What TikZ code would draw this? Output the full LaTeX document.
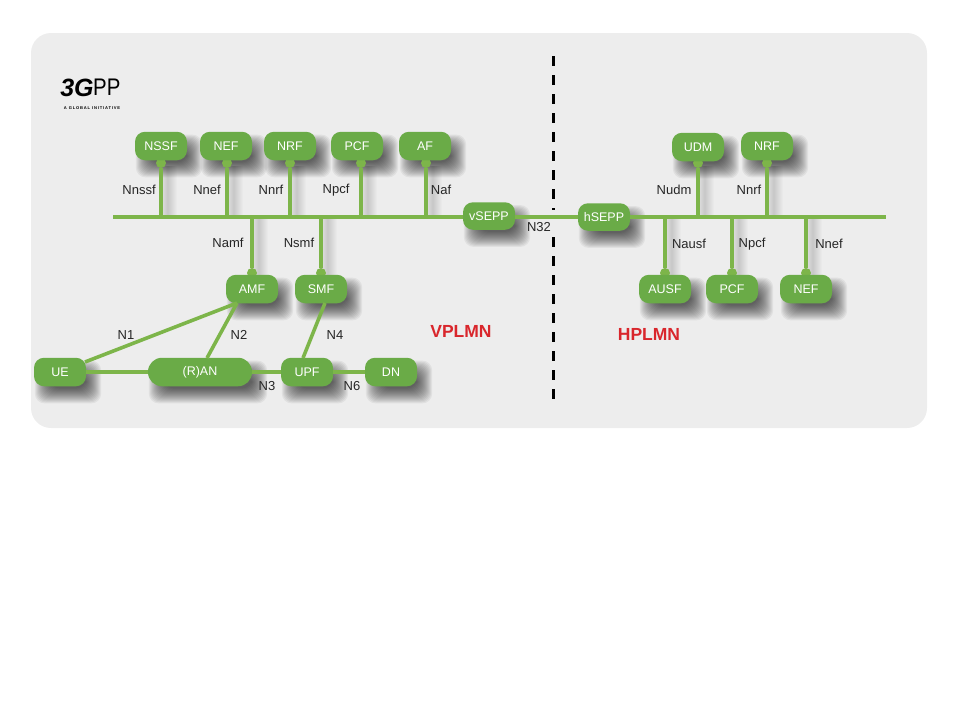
\documentclass[tikz,border=0pt]{standalone}
\usepackage{fontspec}
\setmainfont{Liberation Sans}
\usetikzlibrary{calc,backgrounds}
\definecolor{nfgreen}{HTML}{6AAB47}
\definecolor{linkgreen}{HTML}{7DB54A}
\definecolor{panelgray}{HTML}{EDEDED}
\definecolor{plmnred}{HTML}{D9262C}
\tikzset{
  nf/.style={draw=none,fill=nfgreen,rounded corners=10pt,minimum width=52pt,minimum height=28.5pt,inner sep=0pt,
    text=white,font=\fontsize{12.5}{15}\selectfont},
  ran/.style={nf,minimum width=104pt,rounded corners=14pt},
  sepp/.style={nf,minimum height=27.5pt},
  dot/.style={circle,fill=linkgreen,minimum size=10pt,inner sep=0pt},
  link/.style={draw=linkgreen,line width=3.6pt},
  lab/.style={text=black!85,inner sep=0pt,font=\fontsize{13}{15}\selectfont},
  plmn/.style={text=plmnred,inner sep=0pt,font=\fontsize{17.5}{20}\selectfont\bfseries}
}
\newcommand{\softnode}[1]{%
  \foreach \g in {-8,-7,...,7}{%
    \fill[black,opacity=.05,rounded corners=10pt]
      ($(#1.south west)+(8-\g,10+\g)$) rectangle ($(#1.north east)+(8+\g,10-\g)$);}}
\newcommand{\softstem}[1]{%
  \foreach \g in {2,4,...,18}{%
    \draw[black,opacity=.014,line width=\g pt] ($(#1)+(7,3)$) -- ($(#1 |- busa)+(7,0)$);}}
\begin{document}
\begin{tikzpicture}[x=1pt,y=-1pt]
   \useasboundingbox (0,0) rectangle (960,720);

   % logo
   \node[inner sep=0pt,font=\fontsize{25}{25}\selectfont\bfseries\itshape] (logoa) at (77,88) {3G};
   \node[inner sep=0pt,font=\fontsize{24}{24}\selectfont,xscale=.85,anchor=west] (logob) at (93,87) {PP};
   \node[inner sep=0pt,font=\fontsize{4.1}{5}\selectfont\bfseries\addfontfeature{LetterSpace=20}] (logoc) at (92,108) {A GLOBAL INITIATIVE};

   % the border
   \coordinate (bordera) at (553.5,56);
   \coordinate (borderb) at (553.5,210);
   \coordinate (borderc) at (553.5,237);
   \coordinate (borderd) at (553.5,404);
   \draw[line width=3.4pt,dash pattern=on 10pt off 9pt] (bordera) -- (borderb);
   \draw[line width=3.4pt,dash pattern=on 10pt off 9pt] (borderc) -- (borderd);

   \coordinate (busa) at (113,217);
   \coordinate (busb) at (886,217);

   % bus taps, top row
   \node[dot] (dnssf) at (161,163) {};
   \node[dot] (dnefv) at (227,163) {};
   \node[dot] (dnrfv) at (290,163) {};
   \node[dot] (dpcfv) at (361,163) {};
   \node[dot] (daf) at (426,163) {};
   \node[dot] (dudm) at (698,163) {};
   \node[dot] (dnrfh) at (767,163) {};
   % bus taps, lower row
   \node[dot] (damf) at (252,273) {};
   \node[dot] (dsmf) at (321,273) {};
   \node[dot] (dausf) at (665,273) {};
   \node[dot] (dpcfh) at (732,273) {};
   \node[dot] (dnefh) at (806,273) {};

   \path[link] (dnssf) edge (dnssf |- busa);
   \path[link] (dnefv) edge (dnefv |- busa);
   \path[link] (dnrfv) edge (dnrfv |- busa);
   \path[link] (dpcfv) edge (dpcfv |- busa);
   \path[link] (daf) edge (daf |- busa);
   \path[link] (dudm) edge (dudm |- busa);
   \path[link] (dnrfh) edge (dnrfh |- busa);
   \path[link] (damf) edge (damf |- busa);
   \path[link] (dsmf) edge (dsmf |- busa);
   \path[link] (dausf) edge (dausf |- busa);
   \path[link] (dpcfh) edge (dpcfh |- busa);
   \path[link] (dnefh) edge (dnefh |- busa);

   \node[nf] (nssf) at (161,146) {NSSF};
   \node[nf] (nefv) at (226,146) {NEF};
   \node[nf] (nrfv) at (290,146) {NRF};
   \node[nf] (pcfv) at (357,146) {PCF};
   \node[nf] (af) at (425,146) {AF};
   \node[nf] (amf) at (252,289) {AMF};
   \node[nf] (smf) at (321,289) {SMF};
   \node[nf] (ue) at (60,372) {UE};
   \node[ran] (ran) at (200,372) {(R)AN};
   \node[nf] (upf) at (307,372) {UPF};
   \node[nf] (dn) at (391,372) {DN};
   \node[sepp] (vsepp) at (489,216) {vSEPP};
   \node[sepp] (hsepp) at (604,217) {hSEPP};
   \node[nf] (udm) at (698,147) {UDM};
   \node[nf] (nrfh) at (767,146) {NRF};
   \node[nf] (ausf) at (665,289) {AUSF};
   \node[nf] (pcfh) at (732,289) {PCF};
   \node[nf] (nefh) at (806,289) {NEF};

   \coordinate (amfa) at (237,303);
   \coordinate (smfa) at (325,303);
   \coordinate (uea) at (85,362);
   \coordinate (rana) at (207,358);
   \coordinate (upfa) at (303,358);

   \path[link] (busa) edge (vsepp.west |- busa);
   \path[link] (vsepp.east |- busa) edge (hsepp.west |- busa);
   \path[link] (hsepp.east |- busa) edge (busb);
   \path[link] (uea) edge (amfa);
   \path[link] (ue) edge (ran);
   \path[link] (rana) edge (amfa);
   \path[link] (ran) edge (upf);
   \path[link] (upfa) edge (smfa);
   \path[link] (upf) edge (dn);

   \node[lab] (lnssf) at (139,190) {Nnssf};
   \node[lab] (lnefv) at (207,190) {Nnef};
   \node[lab] (lnrfv) at (271,190) {Nnrf};
   \node[lab] (lpcfv) at (336,190) {Npcf};
   \node[lab] (laf) at (441,190) {Naf};
   \node[lab] (lamf) at (228,243) {Namf};
   \node[lab] (lsmf) at (299,243) {Nsmf};
   \node[lab] (lna) at (126,335) {N1};
   \node[lab] (lnb) at (239,335) {N2};
   \node[lab] (lnc) at (267,386) {N3};
   \node[lab] (lnd) at (335,335) {N4};
   \node[lab] (lnf) at (352,386) {N6};
   \node[lab] (lnsepp) at (539,227) {N32};
   \node[lab] (ludm) at (674,190) {Nudm};
   \node[lab] (lnrfh) at (749,190) {Nnrf};
   \node[lab] (lausf) at (689,244) {Nausf};
   \node[lab] (lpcfh) at (752,244) {Npcf};
   \node[lab] (lnefh) at (829,244) {Nnef};

   \node[plmn] (vplmn) at (461,331) {VPLMN};
   \node[plmn] (hplmn) at (649,334) {HPLMN};

   % panel and shadows go behind everything
   \begin{pgfonlayer}{background}
   \path[fill=panelgray,rounded corners=20pt] (31,33) rectangle (927,428);
   \softstem{dnssf} \softstem{dnefv} \softstem{dnrfv} \softstem{dpcfv} \softstem{daf}
   \softstem{dudm} \softstem{dnrfh} \softstem{damf} \softstem{dsmf}
   \softstem{dausf} \softstem{dpcfh} \softstem{dnefh}
   \softnode{nssf} \softnode{nefv} \softnode{nrfv} \softnode{pcfv} \softnode{af}
   \softnode{amf} \softnode{smf} \softnode{ue} \softnode{ran} \softnode{upf} \softnode{dn}
   \softnode{vsepp} \softnode{hsepp} \softnode{udm} \softnode{nrfh}
   \softnode{ausf} \softnode{pcfh} \softnode{nefh}
   \end{pgfonlayer}

\end{tikzpicture}
\end{document}
